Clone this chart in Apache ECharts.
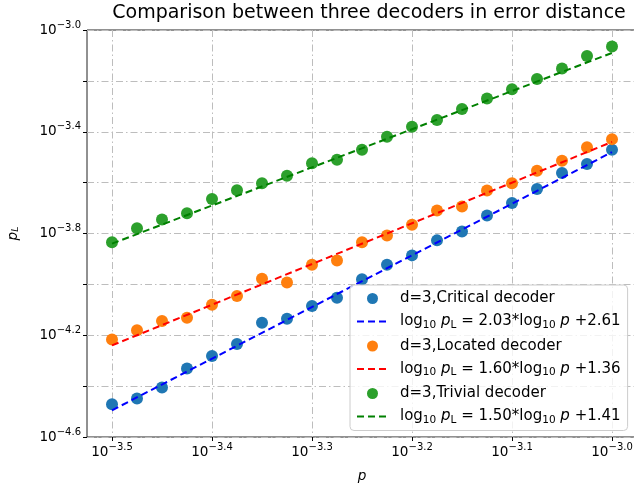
<!DOCTYPE html>
<html>
<head>
<meta charset="utf-8">
<script src="https://cdn.jsdelivr.net/npm/echarts@6/dist/echarts.min.js"></script>
<style>
html,body{margin:0;padding:0;background:#fff;}
#chart{width:634px;height:484px;}
</style>
</head>
<body>
<div id="chart"></div>
<script>
// log10 p on x, log10 pL on y
var logP = [-3.5, -3.475, -3.45, -3.425, -3.4, -3.375, -3.35, -3.325, -3.3, -3.275, -3.25,
            -3.225, -3.2, -3.175, -3.15, -3.125, -3.1, -3.075, -3.05, -3.025, -3.0];
var criticalY = [-4.471, -4.449, -4.405, -4.331, -4.282, -4.234, -4.151, -4.135, -4.085, -4.053, -3.980,
                 -3.923, -3.886, -3.827, -3.792, -3.729, -3.680, -3.625, -3.562, -3.527, -3.471];
var locatedY = [-4.217, -4.180, -4.144, -4.131, -4.080, -4.046, -3.978, -3.993, -3.923, -3.906, -3.834,
                -3.808, -3.766, -3.710, -3.694, -3.631, -3.602, -3.553, -3.514, -3.461, -3.429];
var trivialY = [-3.834, -3.779, -3.745, -3.720, -3.664, -3.630, -3.602, -3.573, -3.524, -3.510, -3.471,
                -3.420, -3.380, -3.354, -3.311, -3.269, -3.233, -3.193, -3.151, -3.102, -3.065];
// fitted lines, ends at p=10^-3.5 and p=10^-3.0
var fitX = [-3.5, -3.0];
var criticalFit = [-4.495, -3.48];
var locatedFit = [-4.24, -3.44];
var trivialFit = [-3.84, -3.09];
var xTicks = [-3.5, -3.4, -3.3, -3.2, -3.1, -3.0];
var names = ['d=3,Critical decoder', 'd=3,Located decoder', 'd=3,Trivial decoder'];
var fitNames = ['log10 pL = 2.03*log10 p +2.61', 'log10 pL = 1.60*log10 p +1.36', 'log10 pL = 1.50*log10 p +1.41'];
var fitCoef = [['2.03', '+2.61'], ['1.60', '+1.36'], ['1.50', '+1.41']];

var FONT = 'DejaVu Sans';
var pairs = function (ys) {
    return ys.map(function (y, i) { return [logP[i], y]; });
};
var powLabel = function (v) {
    return '{b|10}{s|\u2212' + Math.abs(v).toFixed(1) + '}';
};
var legendText = {};
fitNames.forEach(function (n, i) {
    legendText[n] = '{n|log}{d|10}{n| }{i|p}{d|L}{n| = ' + fitCoef[i][0] + '*log}{d|10}{n| }{i|p}{n| ' + fitCoef[i][1] + '}';
});
var tickRich = {
    b: {fontFamily: FONT, fontSize: 13.6, color: '#000', lineHeight: 20, verticalAlign: 'middle'},
    s: {fontFamily: FONT, fontSize: 10, color: '#000', lineHeight: 8, verticalAlign: 'top'}
};

var chart = echarts.init(document.getElementById('chart'));
var colors = ['#1f77b4', '#ff7f0e', '#2ca02c'];
var lineColors = ['#0000ff', '#ff0000', '#008000'];
var ys = [criticalY, locatedY, trivialY];
var fits = [criticalFit, locatedFit, trivialFit];
var series = [];
for (var k = 0; k < 3; k++) {
    series.push({
        name: names[k], type: 'scatter', data: pairs(ys[k]), symbolSize: 12,
        itemStyle: {color: colors[k], opacity: 1}, z: 2
    });
    series.push({
        name: fitNames[k], type: 'line', data: [[fitX[0], fits[k][0]], [fitX[1], fits[k][1]]],
        symbol: 'none', showSymbol: false, z: 3,
        itemStyle: {color: lineColors[k]},
        lineStyle: {color: lineColors[k], width: 2, type: [7, 4]}
    });
}
var noDot = {opacity: 0};

chart.setOption({
    animation: false,
    title: {
        text: 'Comparison between three decoders in error distance',
        left: 369, top: 4, textAlign: 'center', padding: 0,
        textStyle: {fontFamily: FONT, fontSize: 19, fontWeight: 'normal', color: '#000'}
    },
    grid: {
        left: 87, top: 30, width: 550, height: 407, show: true,
        borderColor: '#222', borderWidth: 1, backgroundColor: 'transparent',
        outerBoundsMode: 'none'
    },
    legend: {
        orient: 'vertical', left: 350, top: 285,
        padding: [6, 7, 5, 6], itemGap: 8, itemWidth: 31, itemHeight: 11,
        backgroundColor: 'rgba(255,255,255,0.8)', borderColor: '#cccccc', borderWidth: 1, borderRadius: 4,
        data: [
            {name: names[0], icon: 'circle'}, {name: fitNames[0], itemStyle: noDot},
            {name: names[1], icon: 'circle'}, {name: fitNames[1], itemStyle: noDot},
            {name: names[2], icon: 'circle'}, {name: fitNames[2], itemStyle: noDot}
        ],
        formatter: function (n) { return legendText[n] || ('{n|' + n + '}'); },
        textStyle: {
            fontFamily: FONT, fontSize: 15, color: '#000', padding: [0, 0, 0, 7],
            rich: {
                n: {fontFamily: FONT, fontSize: 15, color: '#000', lineHeight: 18, verticalAlign: 'middle'},
                i: {fontFamily: FONT, fontSize: 15, color: '#000', fontStyle: 'italic', lineHeight: 18, verticalAlign: 'middle'},
                d: {fontFamily: FONT, fontSize: 10.5, color: '#000', lineHeight: 10, verticalAlign: 'bottom'}
            }
        }
    },
    xAxis: {
        type: 'value', min: -3.525, max: -2.975,
        name: 'p', nameLocation: 'middle', nameGap: 32,
        nameTextStyle: {fontFamily: FONT, fontSize: 13.6, fontStyle: 'italic', color: '#000'},
        axisLine: {show: false},
        axisTick: {show: true, length: 4, lineStyle: {color: '#000'}, customValues: xTicks},
        axisLabel: {customValues: xTicks, margin: 5, formatter: powLabel, rich: tickRich},
        splitLine: {show: true, lineStyle: {color: '#bdbdbd', width: 1, type: [7, 3, 1.5, 3]}}
    },
    yAxis: {
        type: 'value', min: -4.6, max: -3.0, interval: 0.2,
        name: '{i|p}{d|L}', nameLocation: 'middle', nameGap: 66, nameRotate: 90,
        nameTextStyle: {
            rich: {
                i: {fontFamily: FONT, fontSize: 13.6, fontStyle: 'italic', color: '#000', lineHeight: 16, verticalAlign: 'middle'},
                d: {fontFamily: FONT, fontSize: 9.5, fontStyle: 'italic', color: '#000', lineHeight: 9, verticalAlign: 'bottom'}
            }
        },
        axisLine: {show: false},
        axisTick: {show: true, length: 4, lineStyle: {color: '#000'}},
        axisLabel: {
            margin: 6, rich: tickRich,
            formatter: function (v) {
                var t = Math.round(-v * 10) - 30;
                return t % 4 === 0 ? powLabel(v) : '';
            }
        },
        splitLine: {show: true, lineStyle: {color: '#bdbdbd', width: 1, type: [7, 3, 1.5, 3]}}
    },
    series: series
});
</script>
</body>
</html>
